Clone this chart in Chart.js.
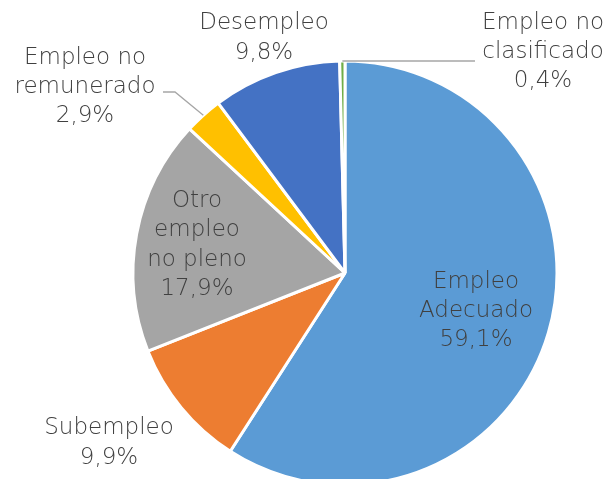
<!DOCTYPE html>
<html>
<head>
<meta charset="utf-8">
<script src="https://cdn.jsdelivr.net/npm/chart.js@4/dist/chart.umd.min.js"></script>
<style>
html,body{margin:0;padding:0;background:#fff;overflow:hidden;}
#wrap{width:609px;height:546px;}
</style>
</head>
<body>
<div id="wrap"><canvas id="pieChart" width="609" height="546"></canvas></div>
<script>
// data
const categories=["Empleo Adecuado","Subempleo","Otro empleo no pleno","Empleo no remunerado","Desempleo","Empleo no clasificado"];
const shares=[59.1,9.9,17.9,2.9,9.8,0.4];
const labelLines=[
    ["Empleo","Adecuado","59,1%"],
    ["Subempleo","9,9%"],
    ["Otro","empleo","no pleno","17,9%"],
    ["Empleo no","remunerado","2,9%"],
    ["Desempleo","9,8%"],
    ["Empleo no","clasificado","0,4%"]
];
const colors=["#5B9BD5","#ED7D31","#A5A5A5","#FFC000","#4472C4","#70AD47"];

// label layout: text block centre relative to pie centre
const labelOffsets=[[131,38],[-236,170],[-148,-28],[-260,-186],[-81,-235],[198,-221]];
// leader lines (after the point on the slice edge), relative to pie centre
const leaders={3:[[-170,-181],[-182,-181]],5:[[130,-212]]};

const labelPlugin={
    id:"pieLabels",
    afterDraw(chart){
        let ctx=chart.ctx;
        let meta=chart.getDatasetMeta(0);
        ctx.save();
        meta.data.forEach((arc,i)=>{
            let cx=arc.x, cy=arc.y;
            let mid=(arc.startAngle+arc.endAngle)/2;
            if(leaders[i]){
                ctx.strokeStyle="#A6A6A6";
                ctx.lineWidth=1.3;
                ctx.beginPath();
                let ex=cx+Math.cos(mid)*arc.outerRadius;
                let ey=cy+Math.sin(mid)*arc.outerRadius;
                ctx.moveTo(ex,ey);
                leaders[i].forEach((p,k)=>{
                    // the short one sits level with its slice edge
                    let py=(leaders[i].length===1)?ey:cy+p[1];
                    ctx.lineTo(cx+p[0],py);
                });
                ctx.stroke();
            }
            let lines=labelLines[i];
            let lh=29.3;
            let x=cx+labelOffsets[i][0];
            let y0=cy+labelOffsets[i][1]-(lines.length-1)*lh/2;
            ctx.fillStyle="#404040";
            ctx.font="200 23px 'DejaVu Sans'";
            ctx.textAlign="center";
            ctx.textBaseline="middle";
            lines.forEach((t,k)=>ctx.fillText(t,x,y0+k*lh));
        });
        ctx.restore();
    }
};

new Chart(document.getElementById("pieChart"),{
    type:"pie",
    data:{
        labels:categories,
        datasets:[{
            data:shares,
            backgroundColor:colors,
            borderColor:"#ffffff",
            borderWidth:3
        }]
    },
    options:{
        responsive:false,
        animation:false,
        radius:212,
        layout:{padding:{left:81,right:0,top:0,bottom:0}},
        plugins:{
            legend:{display:false},
            tooltip:{enabled:false}
        }
    },
    plugins:[labelPlugin]
});
</script>
</body>
</html>
